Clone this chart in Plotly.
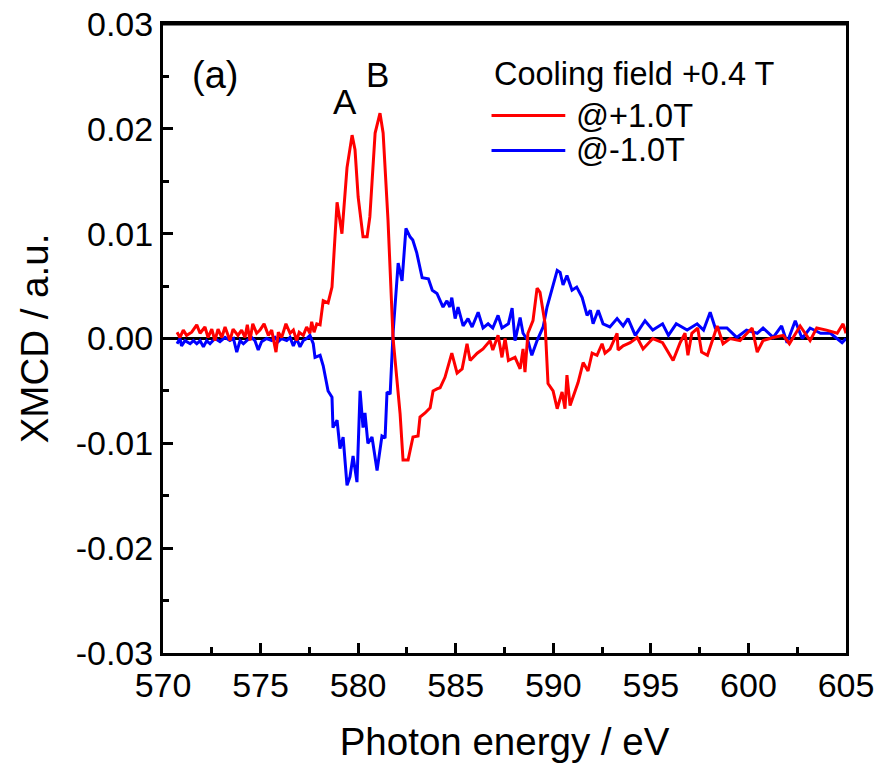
import plotly.graph_objects as go

# ---------------- data ----------------
red_x = [570.72, 570.87, 571.04, 571.21, 571.47, 571.73, 571.90, 572.15, 572.31, 572.50,
         572.66, 572.82, 573.01, 573.18, 573.43, 573.59, 573.84, 574.03, 574.20, 574.32,
         574.46, 574.60, 574.80, 574.97, 575.18, 575.40, 575.57, 575.79, 575.91, 576.08,
         576.30, 576.51, 576.68, 576.85, 576.98, 577.19, 577.36, 577.53, 577.62, 577.74,
         577.88, 578.05, 578.21, 578.46, 578.66, 578.92, 579.17, 579.43, 579.69, 579.84,
         580.00, 580.25, 580.46, 580.60, 580.87, 581.12, 581.28, 581.53, 581.79, 581.99,
         582.15, 582.30, 582.56, 582.81, 583.07, 583.17, 583.43, 583.69, 583.84, 584.04,
         584.20, 584.45, 584.80, 585.07, 585.33, 585.58, 585.74, 586.10, 586.40, 586.76,
         586.90, 587.17, 587.37, 587.53, 587.70, 588.04, 588.30, 588.45, 588.55, 588.70,
         588.96, 589.17, 589.32, 589.58, 589.73, 589.99, 590.20, 590.45, 590.60, 590.70,
         590.86, 591.12, 591.27, 591.53, 591.78, 591.99, 592.24, 592.50, 592.65, 592.91,
         593.27, 593.32, 593.58, 593.94, 594.30, 594.60, 595.10, 595.60, 596.14, 596.50,
         596.75, 596.90, 597.10, 597.40, 597.60, 597.90, 598.40, 598.70, 599.06, 599.57,
         600.19, 600.45, 600.75, 601.27, 601.78, 602.10, 602.65, 603.16, 603.50, 604.00,
         604.55, 604.85, 605.00]
red_y = [0.0006, 0.0001, 0.0008, 0.0003, 0.0006, 0.0013, 0.0005, 0.0011, 0.0001, 0.0009,
         -0.0002, 0.0009, 0.0001, 0.0011, -0.0002, 0.0009, 0.0003, 0.0008, 0.0001, 0.0013,
         -0.0002, 0.0014, 0.0005, 0.0008, 0.0014, 0.0003, 0.0008, -0.0013, 0.0006, 0.0001,
         0.0014, 0.0005, 0.0008, -0.0002, 0.0006, 0.0003, 0.0011, 0.0005, 0.0016, 0.0006,
         0.0014, 0.0013, 0.0036, 0.0034, 0.0049, 0.0130, 0.0100, 0.0163, 0.0194, 0.0180,
         0.0135, 0.0097, 0.0097, 0.0116, 0.0196, 0.0215, 0.0196, 0.0113, 0.0000, -0.0043,
         -0.0072, -0.0116, -0.0116, -0.0094, -0.0093, -0.0075, -0.0071, -0.0066, -0.0050, -0.0048,
         -0.0047, -0.0037, -0.0014, -0.0033, -0.0029, -0.0005, -0.0021, -0.0014, -0.0010, -0.0002,
         -0.0011, 0.0003, -0.0018, 0.0000, -0.0021, -0.0018, -0.0029, -0.0010, -0.0032, 0.0005,
         0.0017, 0.0048, 0.0044, 0.0014, -0.0043, -0.0050, -0.0067, -0.0051, -0.0067, -0.0035,
         -0.0064, -0.0050, -0.0042, -0.0023, -0.0031, -0.0014, -0.0016, -0.0005, -0.0014, -0.0010,
         0.0005, -0.0011, -0.0007, -0.0004, 0.0001, -0.0010, 0.0000, -0.0004, -0.0021, -0.0004,
         0.0005, -0.0016, 0.0005, 0.0010, -0.0013, -0.0016, 0.0012, -0.0005, 0.0000, -0.0002,
         0.0010, -0.0013, -0.0002, 0.0001, 0.0003, -0.0005, 0.0012, -0.0002, 0.0010, 0.0008,
         0.0005, 0.0014, 0.0005]

blue_x = [570.72, 570.87, 570.95, 571.13, 571.39, 571.56, 571.73, 571.90, 572.07, 572.24,
          572.41, 572.66, 572.92, 573.18, 573.43, 573.61, 573.78, 573.95, 574.12, 574.29,
          574.54, 574.71, 574.88, 575.05, 575.31, 575.57, 575.74, 575.91, 576.08, 576.34,
          576.51, 576.68, 576.85, 577.02, 577.19, 577.36, 577.53, 577.70, 577.79, 578.05,
          578.21, 578.46, 578.66, 578.71, 578.92, 579.07, 579.23, 579.43, 579.58, 579.74,
          579.94, 580.10, 580.25, 580.35, 580.50, 580.71, 580.97, 581.22, 581.38, 581.48,
          581.64, 581.79, 582.05, 582.25, 582.45, 582.66, 582.80, 583.00, 583.28, 583.60,
          583.80, 584.04, 584.35, 584.55, 584.70, 584.80, 584.97, 585.12, 585.38, 585.63,
          585.84, 586.15, 586.40, 586.66, 586.90, 587.17, 587.37, 587.70, 587.89, 588.04,
          588.30, 588.45, 588.70, 588.90, 589.17, 589.48, 589.68, 589.99, 590.20, 590.35,
          590.50, 590.70, 590.96, 591.20, 591.48, 591.73, 591.90, 592.04, 592.30, 592.55,
          592.90, 593.27, 593.58, 593.83, 594.20, 594.70, 595.10, 595.60, 595.90, 596.30,
          596.86, 597.37, 597.70, 598.04, 598.30, 598.90, 599.40, 599.90, 600.45, 600.75,
          601.27, 601.70, 601.98, 602.40, 602.75, 603.16, 603.70, 604.20, 604.80, 605.00]
blue_y = [-0.0005, 0.0000, -0.0007, -0.0002, -0.0005, -0.0002, -0.0005, -0.0002, -0.0008, -0.0002,
          -0.0005, 0.0000, -0.0003, 0.0001, -0.0002, 0.0000, -0.0013, -0.0002, -0.0005, -0.0002,
          0.0001, -0.0002, -0.0011, -0.0003, 0.0000, -0.0002, 0.0001, -0.0003, 0.0000, -0.0002,
          0.0001, -0.0007, 0.0000, -0.0008, -0.0002, 0.0000, 0.0003, -0.0005, -0.0018, -0.0016,
          -0.0026, -0.0050, -0.0056, -0.0085, -0.0078, -0.0105, -0.0094, -0.0140, -0.0132, -0.0112,
          -0.0137, -0.0050, -0.0085, -0.0071, -0.0100, -0.0094, -0.0126, -0.0093, -0.0095, -0.0051,
          -0.0053, 0.0005, 0.0072, 0.0055, 0.0105, 0.0097, 0.0094, 0.0082, 0.0058, 0.0057,
          0.0046, 0.0043, 0.0030, 0.0036, 0.0030, 0.0039, 0.0019, 0.0030, 0.0012, 0.0019,
          0.0011, 0.0025, 0.0010, 0.0014, 0.0010, 0.0022, 0.0010, 0.0014, 0.0029, -0.0002,
          0.0020, 0.0005, -0.0002, -0.0016, -0.0002, 0.0011, 0.0030, 0.0051, 0.0065, 0.0063,
          0.0051, 0.0060, 0.0046, 0.0049, 0.0039, 0.0022, 0.0027, 0.0014, 0.0027, 0.0014,
          0.0011, 0.0019, 0.0012, 0.0019, 0.0003, 0.0017, 0.0008, 0.0014, 0.0003, 0.0014,
          0.0008, 0.0014, 0.0008, 0.0025, 0.0010, 0.0010, 0.0001, 0.0008, 0.0005, 0.0010,
          0.0001, 0.0012, -0.0004, 0.0017, 0.0000, 0.0010, 0.0005, 0.0005, -0.0004, 0.0000]

x_tickvals = [570, 575, 580, 585, 590, 595, 600, 605]
x_ticktext = ["570", "575", "580", "585", "590", "595", "600", "605"]
y_tickvals = [0.03, 0.02, 0.01, 0.00, -0.01, -0.02, -0.03]
y_ticktext = ["0.03", "0.02", "0.01", "0.00", "-0.01", "-0.02", "-0.03"]

legend_title = "Cooling field +0.4 T"
series_names = ["@+1.0T", "@-1.0T"]
series_colors = ["#FF0000", "#0000FF"]
peak_labels = [("A", 579.35, 0.0226), ("B", 581.0, 0.0252)]
panel_label = "(a)"

FONT = "Arial, 'Liberation Sans', sans-serif"

fig = go.Figure()
# blue first so red is drawn on top
fig.add_trace(go.Scatter(x=blue_x, y=blue_y, mode="lines", name=series_names[1],
                         line=dict(color=series_colors[1], width=3), showlegend=False))
fig.add_trace(go.Scatter(x=red_x, y=red_y, mode="lines", name=series_names[0],
                         line=dict(color=series_colors[0], width=3), showlegend=False))

# zero line
fig.add_shape(type="line", xref="paper", yref="y", x0=0, x1=1, y0=0, y1=0,
              line=dict(color="black", width=3), layer="below")
# top frame line (ensures the closed box)
fig.add_shape(type="line", xref="paper", yref="paper", x0=0, x1=1, y0=1, y1=1,
              line=dict(color="black", width=3), layer="above")

axis_common = dict(showgrid=False, zeroline=False, showline=True, linecolor="black",
                   linewidth=3, mirror=True, ticks="inside", tickcolor="black",
                   tickwidth=2.5, ticklen=10, ticklabeloverflow="allow", automargin=False,
                   tickfont=dict(family=FONT, size=34, color="black"),
                   title_font=dict(family=FONT, size=38.5, color="black"))

fig.update_xaxes(range=[570, 605], tickvals=x_tickvals, ticktext=x_ticktext,
                 minor=dict(ticks="inside", ticklen=6, tickwidth=2.5, tickcolor="black", dtick=2.5,
                            tick0=570),
                 title_text="Photon energy / eV", title_standoff=26, **axis_common)
fig.update_yaxes(range=[-0.03, 0.03], tickvals=y_tickvals, ticktext=y_ticktext,
                 minor=dict(ticks="inside", ticklen=6, tickwidth=2.5, tickcolor="black", dtick=0.005,
                            tick0=0),
                 title_text="XMCD / a.u.", title_standoff=16, **axis_common)

# annotations
fig.add_annotation(x=0.076, y=0.919, xref="paper", yref="paper", text=panel_label, showarrow=False,
                   font=dict(family=FONT, size=38, color="black"), xanchor="center", yanchor="middle")
for lab, xv, yv in peak_labels:
    fig.add_annotation(x=xv, y=yv, xref="x", yref="y", text=lab, showarrow=False,
                       font=dict(family=FONT, size=35, color="black"), xanchor="center", yanchor="middle")

# custom legend
fig.add_annotation(x=0.481, y=0.921, xref="paper", yref="paper", text=legend_title, showarrow=False,
                   font=dict(family=FONT, size=32.5, color="black"), xanchor="left", yanchor="middle")
leg_y = [0.8545, 0.799]
for name, col, ly in zip(series_names, series_colors, leg_y):
    fig.add_shape(type="line", xref="paper", yref="paper", x0=0.481, x1=0.589, y0=ly, y1=ly,
                  line=dict(color=col, width=3))
    fig.add_annotation(x=0.602, y=ly, xref="paper", yref="paper", text=name, showarrow=False,
                       font=dict(family=FONT, size=32.5, color="black"), xanchor="left", yanchor="middle")

fig.update_layout(width=879, height=765, margin=dict(l=163, r=33, t=24, b=112),
                  plot_bgcolor="white", paper_bgcolor="white", showlegend=False,
                  font=dict(family=FONT, color="black"))

fig.write_html("out.html", config={"displayModeBar": False},
               post_script="document.body.style.margin='0';document.body.style.overflow='hidden';")
